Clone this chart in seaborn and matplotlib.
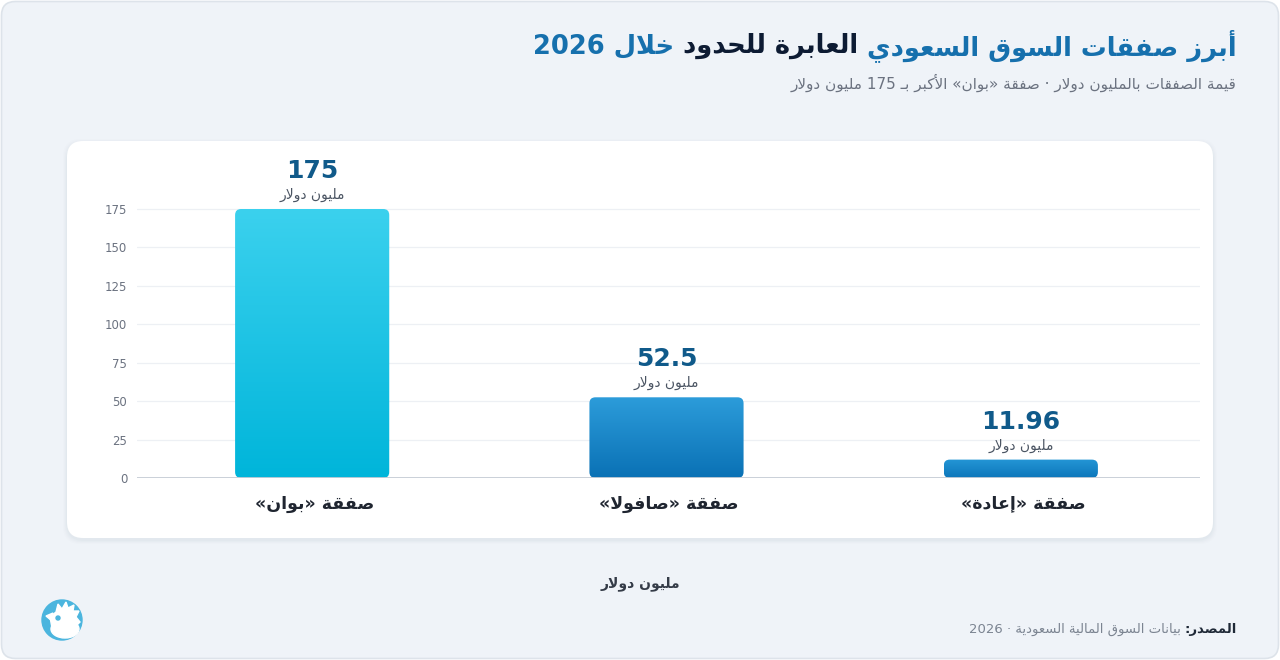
import re
import matplotlib
matplotlib.use("Agg")
import numpy as np
import pandas as pd
import matplotlib.pyplot as plt
import seaborn as sns
from matplotlib.patches import FancyBboxPatch, Circle, Polygon, Ellipse
from matplotlib.colors import LinearSegmentedColormap

# البيانات
categories = ["صفقة «بوان»", "صفقة «صافولا»", "صفقة «إعادة»"]
values = [175, 52.5, 11.96]
value_labels = ["175", "52.5", "11.96"]
unit_label = "مليون دولار"
y_ticks = [0, 25, 50, 75, 100, 125, 150, 175]

title_parts = [
    ("أبرز صفقات السوق السعودي", "#1670ad"),
    ("العابرة للحدود", "#0d1b33"),
    ("خلال 2026", "#1670ad"),
]
subtitle = "قيمة الصفقات بالمليون دولار · صفقة «بوان» الأكبر بـ 175 مليون دولار"
x_label = "مليون دولار"
source_key = "المصدر:"
source_text = "بيانات السوق المالية السعودية · 2026"

bar_gradients = [("#3bd1ee", "#00b5da"), ("#2c9cda", "#0a71b5"), ("#2496d6", "#0c76ba")]

# --- تشكيل الحروف العربية (matplotlib لا يدعم الربط ولا الاتجاه) ---
DUAL = {0x0626: 0xFE89, 0x0628: 0xFE8F, 0x062A: 0xFE95, 0x062B: 0xFE99, 0x062C: 0xFE9D,
        0x062D: 0xFEA1, 0x062E: 0xFEA5, 0x0633: 0xFEB1, 0x0634: 0xFEB5, 0x0635: 0xFEB9,
        0x0636: 0xFEBD, 0x0637: 0xFEC1, 0x0638: 0xFEC5, 0x0639: 0xFEC9, 0x063A: 0xFECD,
        0x0641: 0xFED1, 0x0642: 0xFED5, 0x0643: 0xFED9, 0x0644: 0xFEDD, 0x0645: 0xFEE1,
        0x0646: 0xFEE5, 0x0647: 0xFEE9, 0x064A: 0xFEF1}
RIGHT = {0x0622: 0xFE81, 0x0623: 0xFE83, 0x0624: 0xFE85, 0x0625: 0xFE87, 0x0627: 0xFE8D,
         0x0629: 0xFE93, 0x062F: 0xFEA9, 0x0630: 0xFEAB, 0x0631: 0xFEAD, 0x0632: 0xFEAF,
         0x0648: 0xFEED, 0x0649: 0xFEEF}
LAM_ALEF = {0x0622: 0xFEF5, 0x0623: 0xFEF7, 0x0625: 0xFEF9, 0x0627: 0xFEFB}
TATWEEL = 0x0640
MIRROR = {"«": "»", "»": "«", "(": ")", ")": "("}


def joins_next(c):
    return ord(c) in DUAL or ord(c) == TATWEEL


def joinable(c):
    return ord(c) in DUAL or ord(c) in RIGHT or ord(c) == TATWEEL


def shape(text):
    out = []
    i, n = 0, len(text)
    while i < n:
        c = text[i]
        o = ord(c)
        link_prev = i > 0 and joins_next(text[i - 1]) and joinable(c)
        if o == 0x0644 and i + 1 < n and ord(text[i + 1]) in LAM_ALEF:
            out.append(chr(LAM_ALEF[ord(text[i + 1])] + (1 if link_prev else 0)))
            i += 2
            continue
        if o in DUAL:
            link_next = i + 1 < n and joinable(text[i + 1])
            if link_prev and link_next:
                form = 3
            elif link_prev:
                form = 1
            elif link_next:
                form = 2
            else:
                form = 0
            out.append(chr(DUAL[o] + form))
        elif o in RIGHT:
            out.append(chr(RIGHT[o] + (1 if link_prev else 0)))
        else:
            out.append(c)
        i += 1
    return "".join(out)


def ar(text):
    tokens = re.findall(r"[0-9A-Za-z]+(?:[.,][0-9]+)*|.", shape(text))
    return "".join(MIRROR.get(t, t) for t in reversed(tokens))


W, H = 1280, 660
sns.set_style("white")
plt.rcParams["font.family"] = ["DejaVu Sans"]

fig = plt.figure(figsize=(W / 100, H / 100), dpi=100, facecolor="white")

# خلفية بإحداثيات البكسل
bg = fig.add_axes([0, 0, 1, 1], zorder=0)
bg.set_xlim(0, W)
bg.set_ylim(H, 0)
bg.axis("off")
bg.add_patch(FancyBboxPatch((1.5, 1.5), W - 3, H - 3, boxstyle="round,pad=0,rounding_size=14",
                            facecolor="#eff3f8", edgecolor="#dde3ea", lw=1.2))
for k, a in enumerate([0.035, 0.03, 0.025, 0.02]):
    d = 2 + 2 * k
    bg.add_patch(FancyBboxPatch((67 - d / 2, 141 - d / 2 + 2), 1146 + d, 397 + d,
                                boxstyle="round,pad=0,rounding_size=18",
                                facecolor="#8a9bb0", alpha=a, edgecolor="none"))
bg.add_patch(FancyBboxPatch((67, 141), 1146, 397, boxstyle="round,pad=0,rounding_size=16",
                            facecolor="white", edgecolor="none"))

# الشعار
bg.add_patch(Circle((62, 620), 20, color="#4bb5de"))
bg.add_patch(Ellipse((65, 629), 28, 18, color="white"))
bg.add_patch(Polygon([(52, 628), (50, 617), (56, 612), (58, 604), (62, 609), (66, 602),
                      (68, 608), (74, 605), (73, 611), (79, 611), (76, 617), (80, 622),
                      (76, 626), (62, 630)], closed=True, color="white"))
bg.add_patch(Polygon([(46, 616), (53, 613), (52, 621)], closed=True, color="white"))
bg.add_patch(Circle((58, 618), 2.0, color="#4bb5de"))

# المحور الرئيسي
px_per_unit = 269 / 175
y_top = 200
ax = fig.add_axes([137 / W, (H - 478) / H, (1200 - 137) / W, y_top * px_per_unit / H], zorder=2)
ax.patch.set_alpha(0)

df = pd.DataFrame({"deal": categories, "value": values})
sns.barplot(data=df, x="deal", y="value", ax=ax, width=0.435, color="#00b5da",
            saturation=1, zorder=3)

ax.set_xlim(-0.5, len(categories) - 0.5)
ax.set_ylim(0, y_top)

# تحويل الأعمدة إلى مستطيلات مستديرة بتدرج لوني
x_per_px = 1 / 354.33
aspect = (1 / px_per_unit) / x_per_px
for patch, (c_top, c_bot) in zip(list(ax.patches), bar_gradients):
    x0, w, h = patch.get_x(), patch.get_width(), patch.get_height()
    patch.set_visible(False)
    rb = FancyBboxPatch((x0 - 2 * x_per_px, 0), w, h,
                        boxstyle=f"round,pad=0,rounding_size={6 * x_per_px}",
                        mutation_aspect=aspect, facecolor="none", edgecolor="none",
                        transform=ax.transData, zorder=3)
    ax.add_patch(rb)
    cmap = LinearSegmentedColormap.from_list("g", [c_bot, c_top])
    grad = np.linspace(0, 1, 256).reshape(-1, 1)
    im = ax.imshow(grad, extent=[x0 - 2 * x_per_px, x0 + w, 0, h], origin="lower",
                   aspect="auto", cmap=cmap, zorder=3)
    im.set_clip_path(rb)

ax.set_xlim(-0.5, len(categories) - 0.5)
ax.set_ylim(0, y_top)

for i, (v, lab) in enumerate(zip(values, value_labels)):
    ax.annotate(lab, (i, v), xytext=(-2, 38), textcoords="offset pixels", ha="center",
                va="center", fontsize=18, fontweight="bold", color="#105a8a", zorder=5)
    ax.annotate(ar(unit_label), (i, v), xytext=(-2, 14), textcoords="offset pixels",
                ha="center", va="center", fontsize=10, color="#4b5563", zorder=5)

ax.set_yticks(y_ticks)
ax.set_yticklabels([str(t) for t in y_ticks])
ax.set_xticks(range(len(categories)))
ax.set_xticklabels([ar(c) for c in categories])
ax.tick_params(axis="y", length=0, pad=7, labelsize=8.5, labelcolor="#6b7280")
ax.tick_params(axis="x", length=0, pad=12, labelsize=12.5, labelcolor="#1f2530")
for lab in ax.get_xticklabels():
    lab.set_fontweight("bold")
ax.set_xlabel("")
ax.set_ylabel("")
for t in y_ticks[1:]:
    ax.axhline(t, color="#edf0f4", lw=0.9, zorder=1)
ax.axhline(0, color="#c6cdd6", lw=1.3, zorder=4)
sns.despine(ax=ax, left=True, bottom=True)

# النصوص
renderer = fig.canvas.get_renderer()


def rtl_line(x_right, y, parts, size, gap=7):
    x = x_right
    for txt, color, weight in parts:
        t = fig.text(x / W, 1 - y / H, ar(txt), ha="right", va="center", fontsize=size,
                     color=color, fontweight=weight)
        x -= t.get_window_extent(renderer).width + gap


rtl_line(1237, 46, [(p, c, "bold") for p, c in title_parts], 18.5, gap=9)
fig.text(1237 / W, 1 - 83 / H, ar(subtitle), ha="right", va="center", fontsize=11,
         color="#6b7280")
fig.text(640 / W, 1 - 584 / H, ar(x_label), ha="center", va="center", fontsize=10,
         fontweight="bold", color="#343b47")
rtl_line(1237, 629, [(source_key, "#1f2937", "bold"), (source_text, "#7b8491", "normal")], 9.5,
         gap=4)

fig.savefig("out.png", dpi=100, facecolor=fig.get_facecolor())
